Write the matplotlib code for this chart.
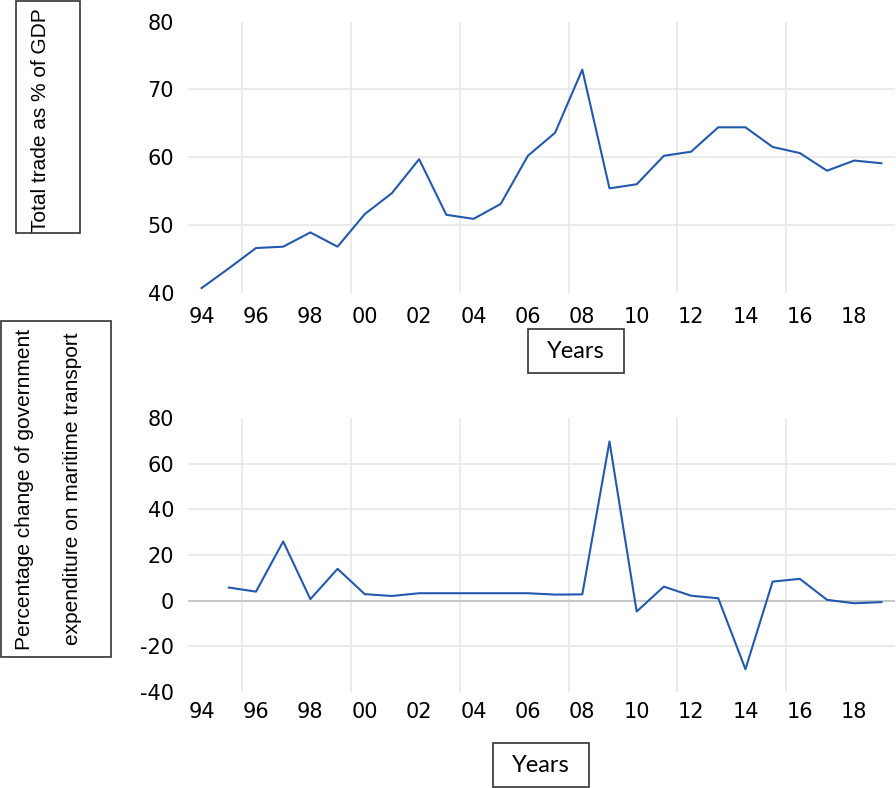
import matplotlib
matplotlib.use('Agg')
import matplotlib.pyplot as plt
from matplotlib.patches import Rectangle
import numpy as np

plt.rcParams['font.family'] = ['DejaVu Sans']

years = list(range(1994, 2020))

trade_gdp = [40.7, 43.6, 46.6, 46.8, 48.9, 46.8, 51.6, 54.7, 59.7, 51.5,
             50.9, 53.1, 60.2, 63.6, 72.9, 55.4, 56.0, 60.2, 60.8, 64.4,
             64.4, 61.5, 60.6, 58.0, 59.5, 59.1]

gov_exp_change = [np.nan, 5.7, 3.9, 25.9, 0.6, 13.9, 2.8, 2.0, 3.2, 3.2,
                  3.2, 3.2, 3.2, 2.6, 2.7, 69.7, -4.8, 6.1, 2.1, 1.0,
                  -30.1, 8.3, 9.5, 0.3, -1.2, -0.7]

xtick_years = [1994, 1996, 1998, 2000, 2002, 2004, 2006, 2008, 2010, 2012, 2014, 2016, 2018]
xtick_labels = ['94', '96', '98', '00', '02', '04', '06', '08', '10', '12', '14', '16', '18']
xgrid_years = [1995.5, 1999.5, 2003.5, 2007.5, 2011.5, 2015.5]

top_ticks = [40, 50, 60, 70, 80]
bottom_ticks = [-40, -20, 0, 20, 40, 60, 80]

line_col = '#2259ad'
grid_col = '#e8e8e8'

W, H = 896, 788
fig = plt.figure(figsize=(W / 100, H / 100), dpi=100)


def setup(ax, ticks, xpad):
    ax.set_xlim(1993.5, 2019.5)
    ax.set_ylim(ticks[0], ticks[-1])
    for s in ax.spines.values():
        s.set_visible(False)
    ax.set_yticks(ticks)
    ax.set_yticklabels([str(t) for t in ticks])
    ax.set_xticks(xtick_years)
    ax.set_xticklabels(xtick_labels)
    ax.tick_params(axis='both', length=0, labelsize=15, colors='black')
    ax.tick_params(axis='y', pad=10)
    ax.tick_params(axis='x', pad=xpad)
    # interior horizontal gridlines only
    for t in ticks[1:-1]:
        ax.axhline(t, color=grid_col, lw=1.2, zorder=0)
    for g in xgrid_years:
        ax.axvline(g, color=grid_col, lw=1.2, zorder=0)


ax1 = fig.add_axes([188 / W, 1 - 292.8 / H, (895 - 188) / W, (292.8 - 21.5) / H])
setup(ax1, top_ticks, 10)
ax1.plot(years, trade_gdp, color=line_col, lw=1.5, zorder=3)

ax2 = fig.add_axes([188 / W, 1 - 691.8 / H, (895 - 188) / W, (691.8 - 418) / H])
setup(ax2, bottom_ticks, 7)
ax2.axhline(0, color='#c4c4c4', lw=1.3, zorder=1)
ax2.plot(years, gov_exp_change, color=line_col, lw=1.5, zorder=3)


def box(x0, y0, x1, y1):
    # pixel coords, y from top
    fig.patches.append(Rectangle((x0 / W, 1 - y1 / H), (x1 - x0) / W, (y1 - y0) / H,
                                 transform=fig.transFigure, fill=False,
                                 edgecolor='#333333', lw=1.2))


def ftext(x, y, s, **kw):
    fig.text(x / W, 1 - y / H, s, ha='center', va='center', **kw)


# Years boxes
box(528, 329, 624, 373)
ftext(576, 351, 'Years', fontsize=17, family='Lato')
box(493, 743, 589, 787)
ftext(541, 765, 'Years', fontsize=17, family='Lato')

# y-axis label boxes
box(16, 1, 80, 233)
ftext(40, 120, 'Total trade as % of GDP', rotation=90, fontsize=15,
      family='Liberation Sans')
box(1, 321, 111, 657)
ftext(25, 489, 'Percentage change of government', rotation=90, fontsize=15,
      family='Liberation Sans')
ftext(73, 489, 'expenditure on maritime transport', rotation=90, fontsize=15,
      family='Liberation Sans')

plt.savefig('out.png', dpi=100)
